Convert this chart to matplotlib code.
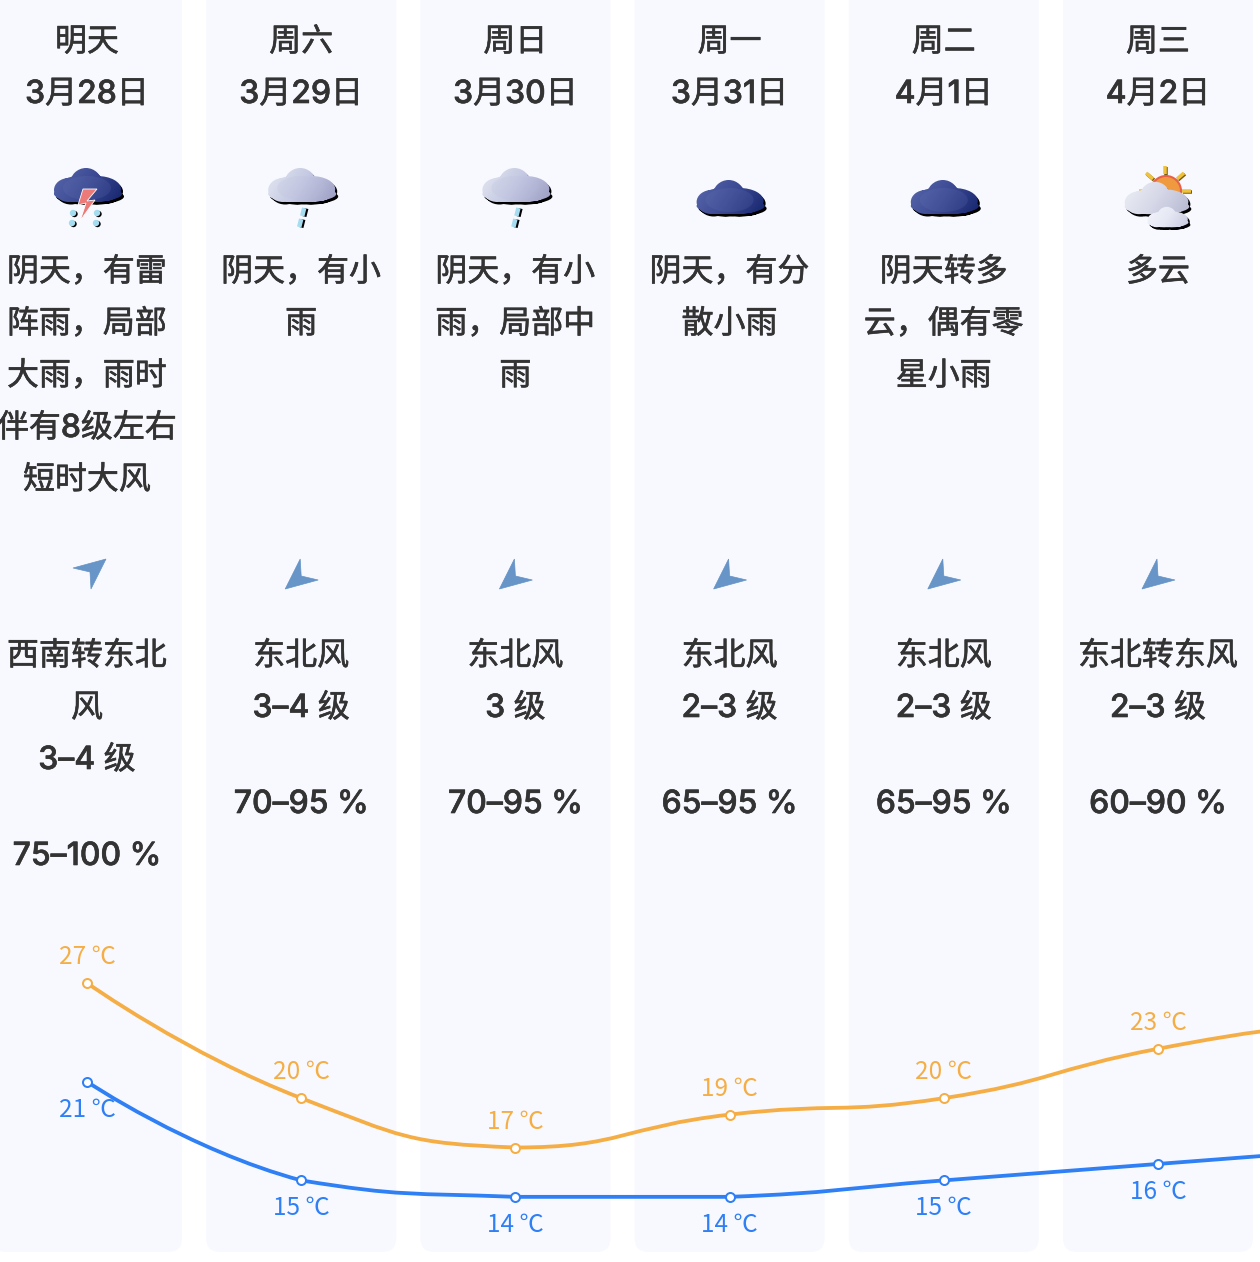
# forecast strip: six day columns with icons, text rows and a temperature curve
import numpy as np
import matplotlib
matplotlib.use("Agg")
import matplotlib.pyplot as plt
import matplotlib.patheffects as pe
from matplotlib.colors import LinearSegmentedColormap
from matplotlib.patches import FancyBboxPatch, PathPatch, Polygon, Circle
from matplotlib.path import Path
from matplotlib.transforms import Affine2D

plt.rcParams["font.family"] = ["Inter", "Noto Sans CJK SC", "DejaVu Sans"]

weekdays = ["明天", "周六", "周日", "周一", "周二", "周三"]
dates = ["3月28日", "3月29日", "3月30日", "3月31日", "4月1日", "4月2日"]
icons = ["thunder", "rain", "rain", "overcast", "overcast", "cloudy"]
descriptions = [
    ["阴天，有雷", "阵雨，局部", "大雨，雨时", "伴有8级左右", "短时大风"],
    ["阴天，有小", "雨"],
    ["阴天，有小", "雨，局部中", "雨"],
    ["阴天，有分", "散小雨"],
    ["阴天转多", "云，偶有零", "星小雨"],
    ["多云"],
]
wind_angles = [0, 180, 180, 180, 180, 180]
winds = [
    ["西南转东北", "风", "3–4 级"],
    ["东北风", "3–4 级"],
    ["东北风", "3 级"],
    ["东北风", "2–3 级"],
    ["东北风", "2–3 级"],
    ["东北转东风", "2–3 级"],
]
humidity = ["75–100 %", "70–95 %", "70–95 %", "65–95 %", "65–95 %", "60–90 %"]
# the seventh value belongs to the next day, which is cut off by the right edge
high_temps = [27, 20, 17, 19, 20, 23, 25]
low_temps = [21, 15, 14, 14, 15, 16, 17]

TEXT = "#333333"
CARD = "#f8f9ff"
ORANGE = "#f5ae45"
BLUE = "#2f7ff5"
ARROW = "#6090c4"
DROP = "#a6dcf0"

W, H = 1260, 1262
COL0, PITCH = 87, 214.2
PX = 72 / 100  # points per pixel


def col_x(i):
    return COL0 + PITCH * i


def cloud_path(cx, cy, s):
    # union of lobes, around the centre of the cloud
    lobes = [(-2, -1, 16, 16), (-19, 5, 15, 12), (18, 6, 12, 10), (0, 9, 34, 8),
             (-9, 4, 22, 13), (9, 4, 24, 13)]
    parts = []
    for dx, dy, rx, ry in lobes:
        tr = Affine2D().scale(rx * s, ry * s).translate(cx + dx * s, cy + dy * s)
        parts.append(Path.unit_circle().transformed(tr))
    return Path.make_compound_path(*parts)


def gradient(ax, box, colors, clip):
    cmap = LinearSegmentedColormap.from_list("g", colors)
    yy, xx = np.mgrid[0:1:48j, 0:1:48j]
    x0, x1, y0, y1 = box
    im = ax.imshow(xx * 0.75 + yy * 0.25, cmap=cmap, extent=(x0, x1, y1, y0),
                   aspect="auto", vmin=0, vmax=1, zorder=clip.get_zorder())
    im.set_clip_path(clip)


def draw_cloud(ax, cx, cy, s, colors, lobe=None):
    shadow = PathPatch(cloud_path(cx + 2, cy + 2.5, s), fc="black", ec="none", zorder=3)
    ax.add_patch(shadow)
    outline = PathPatch(cloud_path(cx, cy, s), fc="none", ec="none", zorder=4)
    ax.add_patch(outline)
    box = (cx - 36 * s, cx + 36 * s, cy - 18 * s, cy + 18 * s)
    gradient(ax, box, colors, outline)
    if lobe:
        # lighter inner puff
        inner = Affine2D().scale(24 * s, 12 * s).translate(cx - 1 * s, cy + 3 * s)
        ax.add_patch(PathPatch(Path.unit_circle().transformed(inner), fc=lobe,
                               ec="none", alpha=0.18, zorder=5))


def draw_dash(ax, x0, y0, x1, y1):
    ax.plot([x0 + 2, x1 + 2], [y0 + 0.5, y1 + 0.5], color="black", lw=4.5 * PX,
            solid_capstyle="butt", zorder=3)
    ax.plot([x0, x1], [y0, y1], color=DROP, lw=4.5 * PX, solid_capstyle="butt", zorder=4)


def draw_icon(ax, kind, x):
    dark = ["#5a68ac", "#3c4a94", "#14246c"]
    light = ["#e6eaf2", "#c4c8e2", "#9a9cc2"]
    if kind == "thunder":
        draw_cloud(ax, x + 1, 185, 1.0, dark, "#6a78b8")
        for dx, y in [(-14, 213), (10, 213), (-15, 223), (9, 223)]:
            ax.add_patch(Circle((x + dx + 1.5, y + 1), 3.2, fc="black", ec="none", zorder=3))
            ax.add_patch(Circle((x + dx, y), 3.2, fc=DROP, ec="none", zorder=4))
        bolt = [(10, -8), (-4, -8), (-9, 8), (-1, 6), (-7, 24), (8, 3), (0, 4)]
        ax.add_patch(Polygon([(x + a, 197 + b) for a, b in bolt], fc="#ec7a78",
                             ec="white", lw=0.6, zorder=6))
    elif kind == "rain":
        draw_cloud(ax, x + 1, 185, 1.0, light, "#b8bcdc")
        draw_dash(ax, x + 3, 208, x + 1, 216)
        draw_dash(ax, x, 219, x - 2, 227)
    elif kind == "overcast":
        draw_cloud(ax, x + 1, 197, 1.0, dark, "#6a78b8")
    else:
        rays = [(7, -31, 7, -23), (-12, -24, -5, -18), (26, -24, 19, -18),
                (24, -6, 33, -6), (-19, -6, -14, -6)]
        for x0, y0, x1, y1 in rays:
            ax.plot([x + x0 + 1, x + x1 + 1], [197 + y0 + 1, 197 + y1 + 1], color="#7a5a10",
                    lw=3.5 * PX, solid_capstyle="butt", zorder=1)
            ax.plot([x + x0, x + x1], [197 + y0, 197 + y1], color="#eec23c",
                    lw=3.5 * PX, solid_capstyle="butt", zorder=2)
        ax.add_patch(Circle((x + 8, 191), 15, fc="#f09a40", ec="#e8604a", lw=1.5, zorder=2))
        draw_cloud(ax, x - 1, 198, 0.95, ["#eef0f6", "#d6d8e8", "#b4b6d0"])
        draw_cloud(ax, x + 10, 217, 0.6, ["#f4f5fb", "#e6e8f4", "#c6c8e0"])


def draw_arrow(ax, x, angle):
    shape = [(17.5, -15), (-15.5, -6), (1.5, -2), (2.5, 15)]
    tr = Affine2D().rotate_deg(angle).translate(x + 1.5, 574)
    ax.add_patch(Polygon(tr.transform(shape), fc=ARROW, ec=ARROW, lw=0.5, alpha=0.95, zorder=3))


def smooth_path(ax, xs, ys, smooth=0.5):
    # bezier through the points, control points kept between neighbouring values
    pts = ax.transData.transform(np.column_stack([xs, ys]))
    n = len(pts)
    verts = [pts[0]]
    out_cp = pts[0].copy()
    for i in range(1, n):
        p, prev = pts[i], pts[i - 1]
        nxt = pts[min(i + 1, n - 1)]
        v = nxt - prev
        l0 = np.hypot(*(p - prev))
        l1 = np.hypot(*(nxt - p))
        ratio = l1 / (l0 + l1) if l0 + l1 > 0 else 0
        in_cp = p - v * smooth * (1 - ratio)
        next_cp = p + v * smooth * ratio
        in_cp[1] = np.clip(in_cp[1], min(prev[1], p[1]), max(prev[1], p[1]))
        next_cp[1] = np.clip(next_cp[1], min(nxt[1], p[1]), max(nxt[1], p[1]))
        verts += [out_cp, in_cp, p]
        out_cp = next_cp
    codes = [Path.MOVETO] + [Path.CURVE4] * (len(verts) - 1)
    return Path(ax.transData.inverted().transform(np.array(verts)), codes)


fig = plt.figure(figsize=(W / 100, H / 100), dpi=100, facecolor="white")

# layout axes in image pixels
ax = fig.add_axes([0, 0, 1, 1])
ax.set_xlim(0, W)
ax.set_ylim(H, 0)
ax.set_autoscale_on(False)
ax.axis("off")

# Noto has no medium face by that name here, so thicken the glyphs a little
heavier = [pe.withStroke(linewidth=0.45, foreground=TEXT)]


def put(x, y, s, size=23):
    ax.text(x, y + 2.5, s, ha="center", va="center", fontsize=size, color=TEXT,
            fontweight="medium", path_effects=heavier, zorder=6)


for i in range(6):
    x = col_x(i)
    ax.add_patch(FancyBboxPatch((x - 95 + 14, -40 + 14), 190 - 28, 1292 - 28,
                                boxstyle="round,pad=14,rounding_size=14",
                                fc=CARD, ec="none", zorder=0))
    put(x, 40, weekdays[i])
    put(x, 92, dates[i])
    draw_icon(ax, icons[i], x)
    for j, line in enumerate(descriptions[i]):
        put(x, 270 + 52 * j, line)
    draw_arrow(ax, x, wind_angles[i])
    for j, line in enumerate(winds[i]):
        put(x, 654 + 52 * j, line)
    put(x, 654 + 52 * (len(winds[i]) - 1) + 96, humidity[i])

# temperature axes share the same canvas, scaled in day index and degrees
tax = fig.add_axes([0, 0, 1, 1])
tax.set_xlim(-COL0 / PITCH, (W - COL0) / PITCH)
tax.set_ylim(27 - (H - 983) / 16.45, 27 + 983 / 16.45)
tax.patch.set_alpha(0)
tax.axis("off")

days = np.arange(len(high_temps))
for temps, color, off in [(high_temps, ORANGE, 27), (low_temps, BLUE, -27)]:
    tax.add_patch(PathPatch(smooth_path(tax, days, temps), fc="none", ec=color,
                            lw=3.8 * PX, zorder=3))
    tax.plot(days, temps, ls="none", marker="o", ms=9 * PX, mfc="white", mec=color,
             mew=2 * PX, zorder=4)
    for d, t in zip(days[:6], temps[:6]):
        tax.annotate(f"{t} ℃", (d, t), xytext=(0, (off - 1) * PX), textcoords="offset points",
                     ha="center", va="center", fontsize=17.5, color=color, zorder=5,
                     family=["Noto Sans CJK SC", "DejaVu Sans"])

fig.savefig("out.png", dpi=100)
